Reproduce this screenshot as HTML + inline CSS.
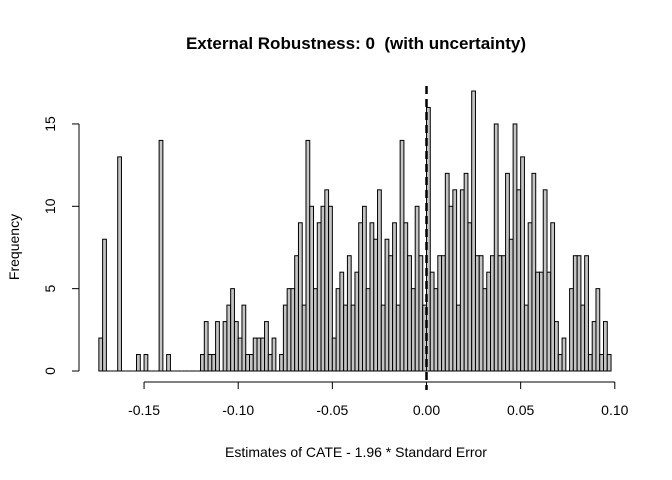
<!DOCTYPE html>
<html><head><meta charset="utf-8"><style>
html,body{margin:0;padding:0;background:#fff;}
svg{display:block;font-family:"Liberation Sans",Arial,sans-serif;}
</style></head><body>
<svg id="chart" width="672" height="480" viewBox="0 0 672 480" xmlns="http://www.w3.org/2000/svg">
<text x="356" y="49" text-anchor="middle" font-size="17" font-weight="bold" style="white-space:pre">External Robustness: 0  (with uncertainty)</text>
<text x="356" y="457" text-anchor="middle" font-size="14">Estimates of CATE - 1.96 * Standard Error</text>
<text x="19" y="247" text-anchor="middle" font-size="14" transform="rotate(-90 19 247)">Frequency</text>
<g id="bars"></g>
<g id="xaxis"></g>
<g id="yaxis"></g>
</svg>
<script>
const binStart = -0.174;
const binWidth = 0.002;
const counts = [2,8,0,0,0,13,0,0,0,0,1,0,1,0,0,0,14,0,1,0,0,0,0,0,0,0,0,1,3,1,1,3,0,3,4,5,3,2,4,1,1,2,2,2,3,1,2,0,1,4,5,5,7,9,4,14,10,5,9,10,11,10,2,5,6,4,7,4,6,9,10,5,9,8,11,4,8,7,9,4,14,9,7,5,10,7,4,16,6,5,7,7,12,10,11,4,11,12,9,17,7,7,5,6,7,15,7,7,12,8,15,11,13,4,9,12,6,6,11,6,9,3,1,2,0,5,7,7,4,7,1,3,5,1,3,1];
const xTicks = [-0.15,-0.10,-0.05,0.00,0.05,0.10];
const xTickLabels = ["-0.15","-0.10","-0.05","0.00","0.05","0.10"];
const yTicks = [0,5,10,15];
const refLine = 0;

const NS = "http://www.w3.org/2000/svg";
function xs(v){ return 426.5 + v*1883; }
function ys(v){ return 371 - v*16.47; }
function mk(tag, attrs, parent){
  const e = document.createElementNS(NS, tag);
  for (const k in attrs) e.setAttribute(k, attrs[k]);
  parent.appendChild(e);
  return e;
}
const bars = document.getElementById('bars');
counts.forEach((c,i)=>{
  const x0 = xs(binStart + i*binWidth), x1 = xs(binStart + (i+1)*binWidth);
  let r;
  if (c === 0) {
    r = mk('line', {x1:x0.toFixed(2), x2:x1.toFixed(2), y1:ys(0), y2:ys(0), stroke:'#000', 'stroke-width':'1'}, bars);
  } else {
    r = mk('rect', {x:x0.toFixed(2), y:ys(c).toFixed(2), width:(x1-x0).toFixed(2), height:(ys(0)-ys(c)).toFixed(2), fill:'#c4c4c4', stroke:'#000', 'stroke-width':'1'}, bars);
  }
  
  
});
const xa = document.getElementById('xaxis');
const xl = mk('line', {x1:xs(xTicks[0]), x2:xs(xTicks[xTicks.length-1]), y1:382, y2:382, stroke:'#000'}, xa);


xTicks.forEach((t,i)=>{
  const tk = mk('line', {x1:xs(t), x2:xs(t), y1:382, y2:389, stroke:'#000'}, xa);
  
  
  const tx = mk('text', {x:xs(t), y:415, 'text-anchor':'middle', 'font-size':'14'}, xa);
  tx.textContent = xTickLabels[i];
  
  
});
const ya = document.getElementById('yaxis');
const yl = mk('line', {x1:79, x2:79, y1:ys(yTicks[0]), y2:ys(yTicks[yTicks.length-1]), stroke:'#000'}, ya);


yTicks.forEach(t=>{
  const tk = mk('line', {x1:72, x2:79, y1:ys(t), y2:ys(t), stroke:'#000'}, ya);
  
  
  const tx = mk('text', {x:55, y:ys(t), 'text-anchor':'middle', 'font-size':'14', transform:'rotate(-90 55 '+ys(t)+')'}, ya);
  tx.textContent = String(t);
  
  
});
const svg = document.getElementById('chart');
const dl = mk('line', {x1:xs(refLine), x2:xs(refLine), y1:86, y2:390, stroke:'#000', 'stroke-width':'2.5', 'stroke-dasharray':'8 5'}, svg);


</script>
</body></html>
